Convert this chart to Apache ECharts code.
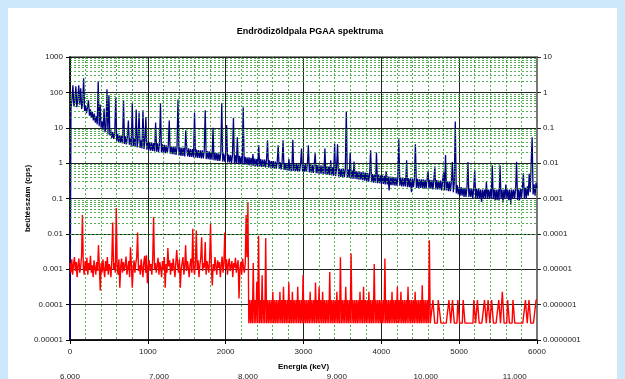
<!DOCTYPE html>
<html>
<head>
<meta charset="utf-8">
<script src="https://cdn.jsdelivr.net/npm/echarts@6/dist/echarts.min.js"></script>
<style>
  html, body { margin: 0; padding: 0; background: #cce8fa; }
  #panel { position: absolute; left: 8px; top: 8px; width: 609px; height: 371px; background: #ffffff; }
  #chart { position: absolute; left: 0; top: 0; width: 625px; height: 379px; }
</style>
</head>
<body>
<div id="panel"></div>
<div id="chart"></div>
<script>
// Low-energy part of the spectrum (0-6000 keV), one reading every 12.5 keV, in cps
const blueStartKeV = 0;
const blueStepKeV = 12.5;
const blueCps = [
  // 0-237.5 keV
  0.00001, 35, 60, 158, 40, 55, 148, 38, 58, 158, 45, 130, 34, 48, 250, 30, 42, 26, 38, 60,
  22, 33, 19, 28, 16, 25, 14, 21, 12.5, 205, 11, 45, 10, 15, 8.5, 35, 7.5, 11, 123, 6.5,
  83, 6, 8.5, 5.2, 7.6, 4.8, 7, 72, 4.2, 6.6, 4.0, 6.2, 3.8, 6.0, 3.6, 60, 3.5, 5.7, 3.4, 5.5,
  16, 3.3, 5.2, 3.1, 49, 3.0, 5.0, 2.9, 33, 2.8, 4.6, 27, 2.7, 4.4, 2.6, 31, 2.5, 4.2, 20, 2.4,
  // 1000-1987.5 keV
  4.0, 2.3, 3.9, 2.25, 3.8, 2.2, 3.7, 2.15, 14, 2.1, 3.6, 2.05, 3.5, 49, 2.0, 3.4, 1.95, 3.3, 1.9, 3.2,
  1.9, 3.1, 16, 1.85, 3.0, 1.8, 2.95, 1.75, 2.9, 1.7, 2.85, 63, 1.65, 2.8, 1.6, 2.75, 1.6, 2.7, 1.55, 8.5,
  2.6, 1.55, 2.6, 1.5, 2.5, 1.5, 2.5, 1.45, 27, 1.45, 2.4, 1.4, 2.35, 1.4, 2.3, 1.35, 2.3, 1.35, 2.25, 31,
  1.3, 2.2, 1.3, 2.15, 1.25, 2.1, 1.25, 10, 1.2, 2.0, 1.2, 1.95, 1.15, 1.9, 1.15, 1.9, 49, 1.1, 1.85, 1.1,
  // 2000-2987.5 keV
  1.8, 12, 1.05, 1.75, 1.05, 1.7, 1.0, 1.7, 19, 0.98, 1.65, 0.96, 5.4, 0.95, 1.6, 0.93, 1.55, 0.92, 38, 0.9,
  1.5, 0.9, 1.45, 0.88, 1.45, 0.86, 1.4, 0.85, 1.8, 0.84, 1.35, 0.82, 1.3, 0.8, 3.2, 0.8, 1.3, 0.78, 1.25, 0.78,
  1.25, 0.76, 1.2, 4.4, 0.75, 1.2, 0.74, 1.15, 0.72, 1.15, 0.7, 1.1, 0.7, 1.1, 3.2, 0.68, 1.05, 0.66, 1.05, 4.4,
  0.64, 1.0, 0.63, 1.0, 0.62, 1.3, 0.61, 0.98, 0.6, 4.6, 0.6, 0.97, 0.6, 0.96, 0.58, 0.96, 0.58, 0.95, 2.6, 0.58,
  // 3000-3987.5 keV
  0.95, 0.57, 0.94, 0.56, 0.93, 3.2, 0.55, 0.92, 0.54, 0.9, 0.53, 0.9, 1.9, 0.52, 0.88, 0.51, 0.87, 0.5, 0.86, 0.5,
  0.85, 0.49, 2.6, 0.48, 0.82, 0.47, 0.8, 0.46, 1.2, 0.45, 0.76, 0.44, 3.6, 0.43, 0.72, 3.4, 0.42, 0.7, 0.41, 0.69,
  0.4, 0.68, 0.4, 0.67, 29, 0.39, 0.66, 0.38, 2.0, 0.37, 0.62, 0.36, 1.1, 0.36, 0.6, 0.35, 0.58, 0.34, 0.57, 0.34,
  0.56, 0.33, 0.55, 0.32, 0.54, 0.31, 0.52, 0.3, 0.5, 2.3, 0.29, 0.49, 0.28, 0.48, 0.28, 2.0, 0.27, 0.46, 0.27, 0.45,
  // 4000-4987.5 keV
  0.26, 0.45, 0.26, 0.44, 0.25, 0.6, 0.25, 0.42, 0.17, 0.42, 0.24, 0.41, 0.24, 0.4, 0.23, 0.4, 0.23, 0.39, 4.7, 0.23,
  0.39, 0.22, 0.38, 0.22, 0.38, 0.22, 1.2, 0.21, 0.37, 0.21, 0.37, 0.15, 0.36, 0.21, 0.36, 3.4, 0.2, 0.36, 0.2, 0.35,
  0.2, 0.35, 0.2, 0.35, 0.19, 0.34, 0.19, 0.34, 0.6, 0.19, 0.34, 0.19, 0.33, 0.18, 0.33, 0.76, 0.18, 0.33, 0.18, 0.32,
  0.18, 0.32, 0.17, 0.32, 0.55, 0.17, 1.7, 0.17, 0.31, 0.16, 0.3, 0.16, 0.3, 1.07, 0.15, 0.28, 15, 0.14, 0.24, 0.13,
  // 5000-6000 keV
  0.21, 0.12, 0.21, 0.12, 0.2, 0.11, 0.2, 0.11, 0.2, 1.07, 0.11, 0.19, 0.11, 0.19, 0.1, 0.19, 0.63, 0.1, 0.19, 0.1,
  0.19, 0.1, 0.18, 0.08, 0.18, 0.1, 0.18, 0.1, 0.3, 0.1, 0.18, 0.1, 0.18, 0.1, 0.87, 0.1, 0.18, 0.09, 0.18, 0.09,
  0.18, 0.09, 0.87, 0.1, 0.18, 0.08, 0.18, 0.1, 0.25, 0.1, 0.18, 0.09, 0.18, 0.07, 0.18, 0.1, 0.18, 0.1, 0.18, 1.1,
  0.09, 0.18, 0.09, 0.19, 0.1, 0.19, 0.52, 0.1, 0.2, 0.1, 0.22, 0.12, 0.5, 0.15, 1.0, 5.4, 0.13, 0.25, 0.12, 0.28,
  0.2
];

// High-energy part of the spectrum (6000-11250 keV), one reading every 10 keV, in cps
const redStartKeV = 6000;
const redStepKeV = 10;
const redCps = [
  // 6000-7990 keV
  1.5e-5, 8e-6, 1.9e-5, 7e-6, 1.4e-5, 2.2e-5, 9e-6, 1.6e-5, 6e-6, 1.3e-5, 2.0e-5, 8e-6, 1.2e-5, 2.3e-5, 3.4e-4, 1.1e-5, 7e-6, 1.7e-5, 9e-6, 2.1e-5,
  7e-6, 1.5e-5, 1.0e-5, 2.4e-5, 8e-6, 1.3e-5, 6e-6, 1.8e-5, 1.1e-5, 7e-6, 1.6e-5, 9e-6, 4.8e-5, 1.2e-5, 2.5e-6, 1.5e-5, 8e-6, 1.9e-5, 1.0e-5, 6e-6,
  1.7e-5, 9e-6, 2.2e-5, 7e-6, 1.4e-5, 1.1e-5, 6e-6, 1.8e-5, 2.1e-4, 1.0e-5, 1.5e-5, 8e-6, 5.4e-4, 1.3e-5, 7e-6, 1.9e-5, 3e-6, 1.2e-5, 2.0e-5, 8e-6,
  1.6e-5, 9e-6, 1.3e-5, 2.3e-5, 7e-6, 1.1e-5, 1.7e-5, 6e-6, 4.2e-5, 1.4e-5, 3e-6, 1.0e-5, 1.8e-5, 8e-6, 1.5e-5, 2.2e-5, 1.1e-4, 9e-6, 1.3e-5, 7e-6,
  1.9e-5, 1.1e-5, 6e-6, 1.6e-5, 2.4e-5, 8e-6, 2.5e-5, 4e-6, 1.2e-5, 1.8e-5, 9e-6, 1.4e-5, 7e-6, 2.0e-5, 3.0e-4, 1.0e-5, 1.5e-5, 8e-6, 1.3e-5, 2.1e-5,
  7e-6, 1.6e-5, 1.1e-5, 6e-6, 1.7e-5, 1.0e-5, 2.2e-5, 3e-6, 1.4e-5, 8e-6, 4e-5, 1.2e-5, 1.8e-5, 7e-6, 1.5e-5, 9e-6, 2.0e-5, 1.1e-5, 6e-6, 1.6e-5,
  3.5e-5, 1.3e-5, 8e-6, 1.9e-5, 3e-6, 1.0e-5, 1.5e-5, 2.2e-5, 7e-6, 1.2e-5, 4.8e-5, 9e-6, 1.7e-5, 1.1e-5, 6e-6, 1.4e-5, 2.0e-5, 8e-6, 1.4e-4, 1.2e-5,
  7e-6, 1.6e-5, 1.25e-4, 1.0e-5, 1.8e-5, 6e-6, 1.3e-5, 2.1e-5, 8e-5, 9e-6, 1.5e-5, 1.1e-5, 5.9e-5, 7e-6, 1.7e-5, 1.2e-5, 8e-6, 2.0e-5, 1.9e-4, 1.0e-5,
  3.5e-6, 1.4e-5, 9e-6, 2.2e-5, 1.2e-5, 7e-6, 1.8e-5, 1.1e-5, 1.6e-5, 6e-6, 1.3e-5, 2.3e-5, 8e-6, 1.5e-5, 1.1e-4, 1.0e-5, 1.9e-5, 7e-6, 1.4e-5, 2.0e-5,
  9e-6, 1.2e-5, 1.7e-5, 6e-6, 1.5e-5, 1.1e-5, 2.1e-5, 8e-6, 1.3e-5, 1.8e-5, 1.5e-6, 1.0e-5, 1.6e-5, 7e-6, 2.0e-5, 1.2e-5, 8e-6, 1.4e-5, 3.4e-4, 2.2e-5,
  // 8000-10030 keV
  7.9e-4,
  3e-7, 1.35e-6, 3e-7, 1.35e-6, 3e-7, 1.5e-5, 3e-7, 1.35e-6, 3e-7, 4.4e-6, 3e-7, 8.9e-5, 3e-7, 1.35e-6, 3e-7, 6.8e-6, 3e-7, 1.35e-6, 3e-7, 7.6e-5,
  3e-7, 1.35e-6, 3e-7, 1.35e-6, 3e-7, 1.35e-6, 3e-7, 2.3e-6, 3e-7, 1.35e-6, 3e-7, 1.35e-6, 3e-7, 1.35e-6, 3e-7, 2.3e-6, 3e-7, 1.35e-6, 3e-7, 3.2e-6,
  3e-7, 1.35e-6, 3e-7, 1.35e-6, 3e-7, 4.2e-6, 3e-7, 1.35e-6, 3e-7, 2.3e-6, 3e-7, 1.35e-6, 3e-7, 1.35e-6, 3e-7, 3.2e-6, 3e-7, 1.35e-6, 3e-7, 1.35e-6,
  3e-7, 6.8e-6, 3e-7, 1.35e-6, 3e-7, 1.35e-6, 3e-7, 1.35e-6, 3e-7, 2.3e-6, 3e-7, 1.35e-6, 3e-7, 1.35e-6, 3e-7, 4.2e-6, 3e-7, 1.35e-6, 3e-7, 3.2e-6,
  3e-7, 1.35e-6, 3e-7, 2.3e-6, 3e-7, 1.35e-6, 3e-7, 1.35e-6, 3e-7, 1.35e-6, 3e-7, 8.3e-6, 3e-7, 1.35e-6, 3e-7, 1.35e-6, 3e-7, 1.35e-6, 3e-7, 2.3e-6,
  3e-7, 1.35e-6, 3e-7, 2.2e-5, 3e-7, 1.35e-6, 3e-7, 1.35e-6, 3e-7, 3.2e-6, 3e-7, 1.35e-6, 3e-7, 1.35e-6, 3e-7, 2.8e-5, 3e-7, 1.35e-6, 3e-7, 1.35e-6,
  3e-7, 1.35e-6, 3e-7, 1.35e-6, 3e-7, 2.3e-6, 3e-7, 1.35e-6, 3e-7, 3.2e-6, 3e-7, 1.35e-6, 3e-7, 1.35e-6, 3e-7, 2.3e-6, 3e-7, 1.35e-6, 3e-7, 1.35e-6,
  3e-7, 1.4e-5, 3e-7, 1.35e-6, 3e-7, 1.35e-6, 3e-7, 1.35e-6, 3e-7, 1.35e-6, 3e-7, 1.35e-6, 3e-7, 2e-5, 3e-7, 1.35e-6, 3e-7, 1.35e-6, 3e-7, 1.35e-6,
  3e-7, 2.3e-6, 3e-7, 1.35e-6, 3e-7, 1.35e-6, 3e-7, 3.2e-6, 3e-7, 1.35e-6, 3e-7, 2.3e-6, 3e-7, 1.35e-6, 3e-7, 1.35e-6, 3e-7, 1.35e-6, 3e-7, 3.2e-6,
  3e-7, 1.35e-6, 3e-7, 1.35e-6, 3e-7, 1.35e-6, 3e-7, 2.3e-6, 3e-7, 1.35e-6, 3e-7, 1.35e-6, 3e-7, 1.35e-6, 3e-7, 3.5e-6, 3e-7, 1.35e-6, 3e-7, 1.35e-6,
  3e-7, 1.35e-6, 3e-7,
  // 10040-11250 keV
  6.6e-5, 3e-7, 3e-7, 3e-7, 1.35e-6, 1.35e-6, 3e-7, 3e-7, 3e-7, 3e-7, 1.35e-6, 1.35e-6, 1.35e-6, 3e-7, 3e-7, 3e-7, 3e-7, 3e-7, 3e-7, 3e-7,
  3e-7, 3e-7, 1.35e-6, 1.35e-6, 3e-7, 3e-7, 1.35e-6, 1.35e-6, 3e-7, 3e-7, 3e-7, 3e-7, 1.35e-6, 1.35e-6, 3e-7, 3e-7, 3e-7, 3e-7, 1.35e-6, 1.35e-6,
  3e-7, 3e-7, 3e-7, 3e-7, 3e-7, 3e-7, 3e-7, 3e-7, 3e-7, 3e-7, 1.35e-6, 1.35e-6, 3e-7, 3e-7, 1.35e-6, 1.35e-6, 3e-7, 3e-7, 3e-7, 3e-7,
  3e-7, 3e-7, 1.35e-6, 1.35e-6, 3e-7, 3e-7, 1.35e-6, 1.35e-6, 3e-7, 3e-7, 1.35e-6, 1.35e-6, 3e-7, 3e-7, 3e-7, 3e-7, 3e-7, 3e-7, 1.35e-6, 1.35e-6,
  3e-7, 3e-7, 2.3e-6, 2.3e-6, 3e-7, 3e-7, 3e-7, 3e-7, 1.35e-6, 1.35e-6, 3e-7, 3e-7, 3e-7, 3e-7, 1.35e-6, 1.35e-6, 3e-7, 3e-7, 3e-7, 3e-7,
  3e-7, 3e-7, 3e-7, 3e-7, 3e-7, 3e-7, 3e-7, 3e-7, 1.35e-6, 1.35e-6, 3e-7, 3e-7, 1.35e-6, 1.35e-6, 3e-7, 3e-7, 3e-7, 3e-7, 3e-7, 3e-7, 1.35e-6, 1.35e-6
];

// Axis ranges
const energyRange = [0, 6000];
const energyRange2 = [6000, 11250];
const cpsRange = [0.00001, 1000];
const cpsRange2 = [0.0000001, 10];
// Minor log grid: multiples 2..9 inside every decade of the left axis
const minorMultipliers = [2, 3, 4, 5, 6, 7, 8, 9];

const titleText = 'Endrödizöldpala PGAA spektruma';
const xName = 'Energia (keV)';
const yName = 'beütésszám (cps)';

const FONT = '"Liberation Sans", Arial, sans-serif';
const blueData = blueCps.map((v, i) => [blueStartKeV + i * blueStepKeV, v]);
const redData = redCps.map((v, i) => [redStartKeV + i * redStepKeV, v]);

const minorGrid = [];
const e0 = Math.round(Math.log10(cpsRange[0]));
const e1 = Math.round(Math.log10(cpsRange[1]));
for (let e = e0; e < e1; e++) {
  minorMultipliers.forEach(m => minorGrid.push({ yAxis: m * Math.pow(10, e) }));
}

function decadeLabel(v) {
  const e = Math.round(Math.log10(v));
  if (e >= 0) return String(Math.pow(10, e));
  return '0.' + '0'.repeat(-e - 1) + '1';
}
function thousands(v) {
  return String(Math.round(v)).replace(/\B(?=(\d{3})+(?!\d))/g, ',');
}

const labelStyle = { color: '#222', fontSize: 8, fontFamily: FONT };
const minorLine = { color: '#3a9d3a', width: 1, type: [2, 2], opacity: 0.85 };
const majorLine = { color: '#222', width: 1 };
const nameStyle = { fontSize: 8, fontWeight: 'bold', color: '#000', fontFamily: FONT };

const chart = echarts.init(document.getElementById('chart'), null, { renderer: 'canvas' });
chart.setOption({
  animation: false,
  backgroundColor: 'transparent',
  title: {
    text: titleText,
    left: 305, top: 22, textAlign: 'center',
    textStyle: { fontSize: 9, fontWeight: 'bold', color: '#000', fontFamily: FONT }
  },
  grid: {
    left: 70, right: 88, top: 57, bottom: 39,
    outerBoundsMode: 'none', containLabel: false,
    show: true, borderColor: '#888', borderWidth: 2, backgroundColor: '#fff'
  },
  xAxis: [
    {
      type: 'value', min: energyRange[0], max: energyRange[1], interval: 1000,
      position: 'bottom',
      name: xName, nameLocation: 'middle', nameGap: 23, nameMoveOverlap: false,
      nameTextStyle: nameStyle,
      axisLine: { lineStyle: { color: '#000', width: 1.5 } },
      axisTick: { show: true, length: 4, lineStyle: { color: '#000' } },
      axisLabel: Object.assign({ margin: 8, formatter: v => String(v) }, labelStyle),
      splitLine: { show: true, lineStyle: majorLine },
      minorTick: { show: false, splitNumber: 5 },
      minorSplitLine: { show: true, lineStyle: minorLine }
    },
    {
      type: 'value', min: energyRange2[0], max: energyRange2[1], interval: 1000,
      position: 'bottom', offset: 25,
      axisLine: { show: false }, axisTick: { show: false }, splitLine: { show: false },
      axisLabel: Object.assign({ margin: 8, showMaxLabel: false, formatter: thousands }, labelStyle)
    }
  ],
  yAxis: [
    {
      type: 'log', logBase: 10, min: cpsRange[0], max: cpsRange[1], splitNumber: 8,
      position: 'left',
      name: yName, nameLocation: 'middle', nameGap: 38, nameRotate: 90, nameMoveOverlap: false,
      nameTextStyle: nameStyle,
      axisLine: { show: true, lineStyle: { color: '#000', width: 1.5 } },
      axisTick: { show: true, length: 4, lineStyle: { color: '#000' } },
      axisLabel: Object.assign({ margin: 7, formatter: decadeLabel }, labelStyle),
      splitLine: { show: true, lineStyle: majorLine }
    },
    {
      type: 'log', logBase: 10, min: cpsRange2[0], max: cpsRange2[1], splitNumber: 8,
      position: 'right',
      axisLine: { show: true, lineStyle: { color: '#777', width: 2 } },
      axisTick: { show: true, length: 4, lineStyle: { color: '#222' } },
      axisLabel: Object.assign({ margin: 6, formatter: decadeLabel }, labelStyle),
      splitLine: { show: false }
    }
  ],
  series: [
    {
      name: 'grid', type: 'line', xAxisIndex: 0, yAxisIndex: 0, data: [], z: 1,
      markLine: {
        silent: true, symbol: ['none', 'none'], label: { show: false },
        lineStyle: minorLine, data: minorGrid, animation: false
      }
    },
    {
      name: 'low', type: 'line', xAxisIndex: 0, yAxisIndex: 0,
      data: blueData, showSymbol: false, symbol: 'none',
      lineStyle: { color: '#000080', width: 1.3 }, z: 3
    },
    {
      name: 'high', type: 'line', xAxisIndex: 1, yAxisIndex: 1,
      data: redData, showSymbol: false, symbol: 'none',
      lineStyle: { color: '#ff0000', width: 1.4 }, z: 4
    }
  ]
});
</script>
</body>
</html>
